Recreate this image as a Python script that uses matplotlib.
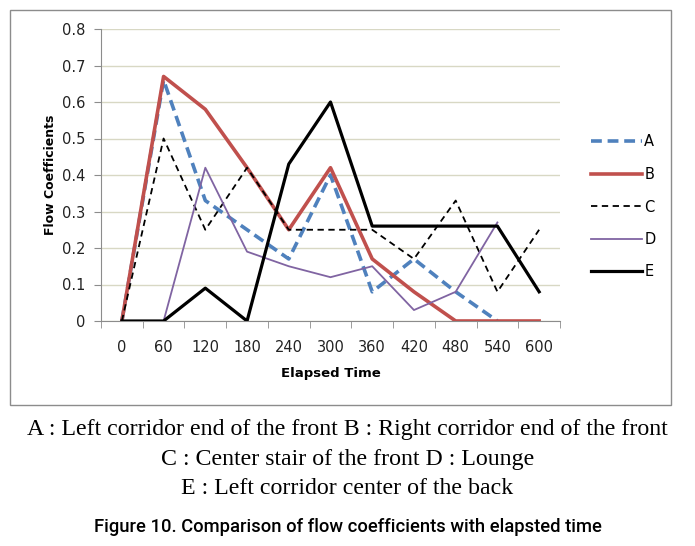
import matplotlib
matplotlib.use("Agg")
import matplotlib.pyplot as plt
from matplotlib.patches import Rectangle
import numpy as np

times = ["0", "60", "120", "180", "240", "300", "360", "420", "480", "540", "600"]
A = [0, 0.66, 0.33, 0.25, 0.17, 0.40, 0.08, 0.17, 0.08, 0.0, None]
B = [0, 0.67, 0.58, 0.42, 0.25, 0.42, 0.17, 0.08, 0.0, 0.0, 0.0]
C = [0, 0.50, 0.25, 0.42, 0.25, 0.25, 0.25, 0.17, 0.33, 0.08, 0.25]
D = [0, 0.0, 0.42, 0.19, 0.15, 0.12, 0.15, 0.03, 0.08, 0.27, None]
E = [0, 0.0, 0.09, 0.0, 0.43, 0.60, 0.26, 0.26, 0.26, 0.26, 0.08]
yticks = [0, 0.1, 0.2, 0.3, 0.4, 0.5, 0.6, 0.7, 0.8]
ytick_labels = ["0", "0.1", "0.2", "0.3", "0.4", "0.5", "0.6", "0.7", "0.8"]
captions = ["A : Left corridor end of the front B : Right corridor end of the front",
            "C : Center stair of the front D : Lounge",
            "E : Left corridor center of the back"]
fig_title = "Figure 10. Comparison of flow coefficients with elapsted time"

W, H = 695, 546
fig = plt.figure(figsize=(W/100, H/100), dpi=100)

def fx(px): return px / W
def fy(py): return 1 - py / H

# outer chart frame
fig.patches.append(Rectangle((fx(10), fy(405)), fx(671) - fx(10), fy(10) - fy(405),
                             transform=fig.transFigure, fill=False,
                             edgecolor="#8c8c8c", linewidth=1.0))

ax = fig.add_axes([fx(101), fy(321), fx(560) - fx(101), fy(29) - fy(321)])
x = np.arange(len(times))

def arr(v):
    return np.array([np.nan if a is None else a for a in v], dtype=float)

ax.plot(x, arr(A), color="#4f81bd", lw=2.6, ls=(0, (3, 1.6)), label="A", zorder=3)
ax.plot(x, arr(B), color="#c0504d", lw=2.6, label="B", zorder=3)
ax.plot(x, arr(C), color="black", lw=1.3, ls=(0, (3.5, 2.5)), label="C", zorder=3)
ax.plot(x, arr(D), color="#8064a2", lw=1.3, label="D", zorder=3)
ax.plot(x, arr(E), color="black", lw=2.3, label="E", zorder=4)

ax.set_xlim(-0.5, len(times) - 0.5)
ax.set_ylim(0, 0.8)
ax.set_yticks(yticks)
ax.set_yticklabels(ytick_labels)
ax.set_xticks(x)
ax.set_xticklabels(times)
ax.set_xticks(np.arange(-0.5, len(times), 1.0), minor=True)
ax.tick_params(axis="x", which="major", length=0, pad=14, labelsize=10.5)
ax.tick_params(axis="x", which="minor", length=5, color="#8c8c8c")
ax.tick_params(axis="y", which="major", length=5, color="#8c8c8c", labelsize=10.5, pad=6)
ax.tick_params(axis="both", labelcolor="#222222")

ax.grid(axis="y", color="#d8d8c4", lw=1.0)
ax.set_axisbelow(True)
for s in ["top", "right"]:
    ax.spines[s].set_visible(False)
for s in ["left", "bottom"]:
    ax.spines[s].set_color("#8c8c8c")

ax.set_ylabel("Flow Coefficients", fontsize=9, fontweight="bold", labelpad=4)
ax.set_xlabel("Elapsed Time", fontsize=9.5, fontweight="bold", labelpad=8)

leg = ax.legend(loc="center left", bbox_to_anchor=(fx(578), fy(207)),
                bbox_transform=fig.transFigure, frameon=False, fontsize=10.5,
                handlelength=3.5, handletextpad=0.15, labelspacing=1.2)

for i, t in enumerate(captions):
    fig.text(0.5, fy([430, 459, 488][i]), t, ha="center", va="center",
             fontsize=17.2, family="Liberation Serif")
fig.text(0.5, fy(527), fig_title, ha="center", va="center", fontsize=13.2,
         family=["Roboto", "DejaVu Sans"], fontweight="medium")

fig.savefig("out.png", dpi=100)
